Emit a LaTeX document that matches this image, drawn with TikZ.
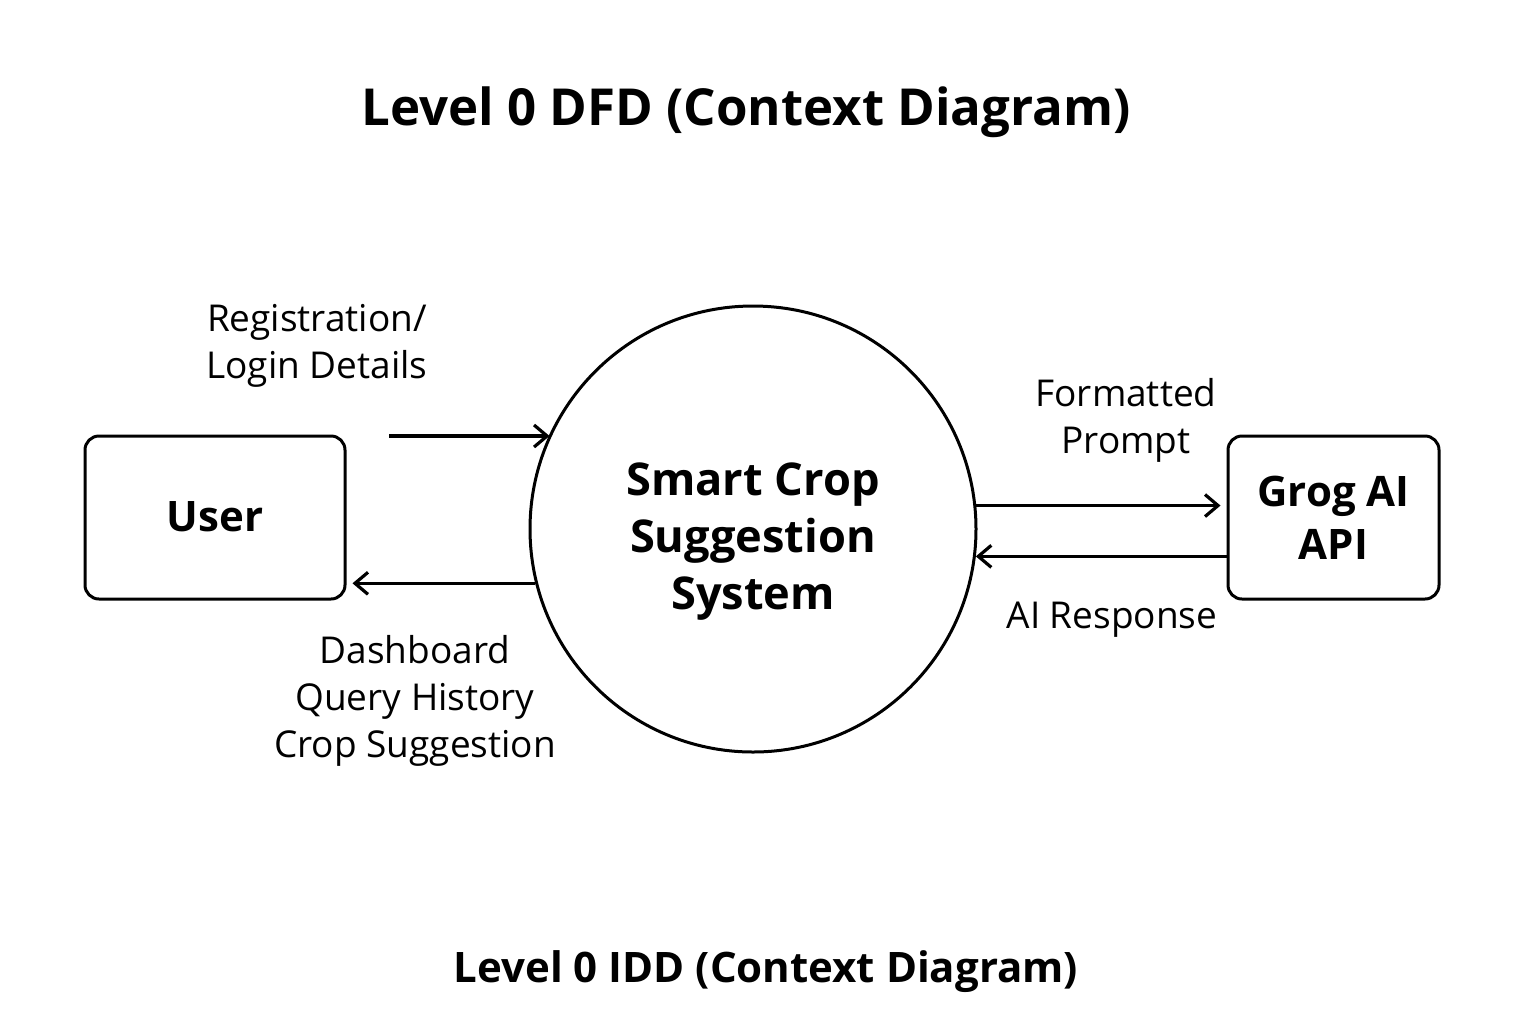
\documentclass[tikz,border=0pt]{standalone}
\usepackage{fontspec}
\setmainfont{Open Sans}
\usetikzlibrary{arrows.meta}
\begin{document}
\begin{tikzpicture}[x=0.5pt,y=-0.5pt,
  ent/.style={draw,line width=1.5pt,rounded corners=7pt,align=center,font=\fontsize{21}{26.5}\selectfont\bfseries},
  proc/.style={draw,circle,line width=1.5pt,minimum size=223pt,inner sep=0pt},
  proctext/.style={align=center,font=\fontsize{22.6}{28.5}\selectfont\bfseries},
  lbl/.style={align=center,font=\fontsize{18.5}{23.5}\selectfont},
  flow/.style={line width=1.6pt,-{Straight Barb[length=6.5pt,width=11pt,line width=1.6pt]}}]
\useasboundingbox (0,0) rectangle (1536,1024);
\node[font=\fontsize{25.5}{30}\selectfont\bfseries] (title) at (746,112) {Level 0 DFD (Context Diagram)};
\node[font=\fontsize{21}{26}\selectfont\bfseries] (foot) at (766,972) {Level 0 IDD (Context Diagram)};
\node[ent,minimum width=130pt,minimum height=81.5pt] (user) at (215,517.5) {\raisebox{1.5pt}{User}};
\node[ent,minimum width=105.5pt,minimum height=81.5pt] (grog) at (1333.5,517.5) {\raisebox{-2.5pt}{Grog AI}\\\raisebox{-2.5pt}{API}};
\node[proc] (sys) at (753,529) {};
\node[proctext] (systext) at (753,542) {Smart Crop\\Suggestion\\System};
\coordinate (regstart) at (389,436);
\draw[flow] (regstart) -- (sys.155.4 |- regstart);
\draw[flow,shorten >=3pt] (sys.194.5) -- (sys.194.5 -| user.east);
\draw[flow,shorten >=3pt] (sys.6.2) -- (sys.6.2 -| grog.west);
\draw[flow] (grog.west |- sys.-7) -- (sys.-7);
\node[lbl] (lreg) at (317,346) {Registration/\\Login Details};
\node[lbl] (ldash) at (415,701) {Dashboard\\Query History\\Crop Suggestion};
\node[lbl] (lfmt) at (1126,420) {Formatted\\Prompt};
\node[lbl] (lresp) at (1112,620) {AI Response};
\end{tikzpicture}
\end{document}
